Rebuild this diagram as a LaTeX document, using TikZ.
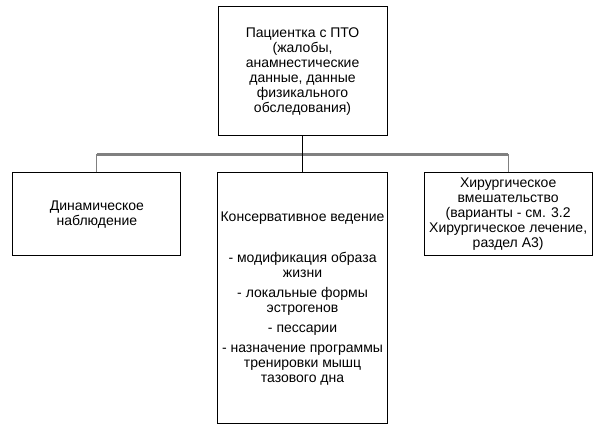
\documentclass[tikz,border=0pt]{standalone}
\usepackage{fontspec}
\setmainfont{Liberation Sans}
\usetikzlibrary{positioning}

\begin{document}
\begin{tikzpicture}[
        font=\fontsize{10.5}{11.25}\selectfont,
        node distance=27pt and 27pt,
        block/.style={draw, line width=0.75pt, align=center, inner sep=2pt, minimum width=126pt},
        sidebox/.style={block, minimum height=62.25pt},
        line/.style={line width=0.75pt},
        bus/.style={draw=gray, line width=1.6pt},
        drop/.style={draw=gray, line width=0.75pt}
    ]
    \useasboundingbox (0,0) rectangle (448.5pt,-319.5pt);

    % PACIENTKA
    \node[block, minimum width=126.75pt, minimum height=96.75pt] (patient) at (226.9pt,-53.6pt)
        {Пациентка с ПТО\\ (жалобы,\\ анамнестические\\ данные, данные\\ физикального\\ обследования)};

    % KONSERVATIVNOE VEDENIE
    \node[block, minimum height=188.25pt, below=of patient] (conserv)
        {Консервативное ведение\\[19.5pt]
         - модификация образа\\ жизни\\[3.75pt]
         - локальные формы\\ эстрогенов\\[3.75pt]
         - пессарии\\[3.75pt]
         - назначение программы\\ тренировки мышц\\ тазового дна};

    % NABLYUDENIE / KHIRURGIYA
    \node[sidebox, left=of conserv.north west, anchor=north east] (observe)
        {Динамическое\\ наблюдение};
    \node[sidebox, right=of conserv.north east, anchor=north west] (surgery)
        {Хирургическое\\ вмешательство\\ (варианты - см. 3.2\\ Хирургическое лечение,\\ раздел А3)};

    % SHINA
    \draw[drop] (observe.north) -- ++(0,13.5pt) coordinate (busL);
    \draw[drop] (surgery.north) -- ++(0,13.5pt) coordinate (busR);
    \draw[bus] (busL) -- (busR);

    % TSENTR
    \draw[line] (patient.south) -- (conserv.north);

\end{tikzpicture}
\end{document}
